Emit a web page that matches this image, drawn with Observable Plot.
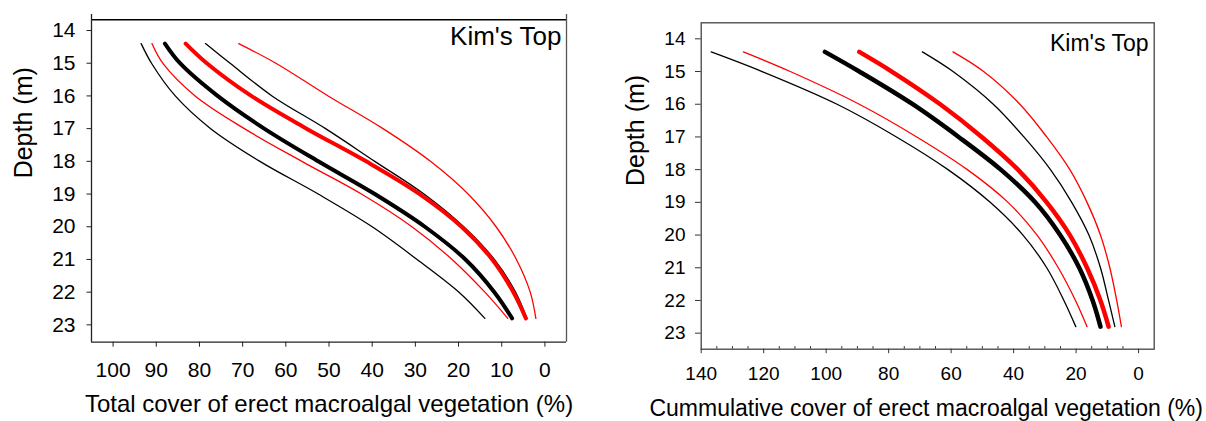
<!DOCTYPE html>
<html>
<head>
<meta charset="utf-8">
<script src="https://cdn.jsdelivr.net/npm/d3@7"></script>
<script src="https://cdn.jsdelivr.net/npm/@observablehq/plot@0.6"></script>
<style>
  html, body { margin: 0; padding: 0; background: #fff; }
  #wrap { position: relative; width: 1206px; height: 421px; overflow: hidden; }
  #left { position: absolute; left: 0; top: 0; }
  #right { position: absolute; left: 603px; top: 0; }
</style>
</head>
<body>
<div id="wrap"><div id="left"></div><div id="right"></div></div>
<script>
// ---- data ----
const depths = [14.4, 15, 16, 17, 18, 19, 20, 21, 22, 22.8];

// Left panel: total cover (%)
const totalBlackLow  = [93.5, 91.1, 85.6, 77.4, 66.0, 52.5, 40.0, 29.6, 19.9, 13.9];
const totalRedLow    = [91.0, 88.5, 81.0, 69.6, 56.3, 42.5, 30.8, 21.5, 13.9, 8.6];
const totalBlackFit  = [88.0, 84.5, 75.8, 65.0, 52.5, 39.4, 27.8, 18.4, 11.7, 7.6];
const totalRedFit    = [83.2, 78.3, 68.0, 55.2, 41.4, 29.0, 19.3, 12.2, 7.3, 4.4];
const totalBlackHigh = [78.6, 72.9, 63.2, 50.8, 39.4, 28.0, 18.8, 11.7, 6.8, 4.2];
const totalRedHigh   = [70.9, 62.3, 50.2, 37.5, 26.5, 17.8, 11.3, 6.6, 3.4, 2.1];

// Right panel: cumulative cover (%)
const cumBlackLow  = [136.8, 120.5, 96.5, 77.5, 61.0, 47.5, 37.0, 29.4, 23.9, 20.1];
const cumRedLow    = [126.5, 111.5, 89.4, 71.0, 54.8, 41.8, 32.5, 25.7, 20.2, 16.5];
const cumBlackFit  = [100.4, 89.4, 72.3, 57.6, 44.1, 33.1, 25.1, 19.0, 14.7, 12.2];
const cumRedFit    = [89.4, 79.0, 63.5, 50.2, 38.6, 29.4, 22.0, 16.5, 12.2, 9.6];
const cumBlackHigh = [69.2, 59.4, 46.5, 36.7, 28.2, 21.4, 15.9, 12.2, 9.6, 7.6];
const cumRedHigh   = [59.4, 49.6, 38.0, 29.4, 22.0, 16.5, 12.2, 9.2, 7.0, 5.5];

const depthTicks = [14, 15, 16, 17, 18, 19, 20, 21, 22, 23];
const totalTicks = [100, 90, 80, 70, 60, 50, 40, 30, 20, 10, 0];
const cumTicks = [140, 120, 100, 80, 60, 40, 20, 0];
const cumMinorTicks = [135, 130, 125, 115, 110, 105, 95, 90, 85, 75, 70, 65, 55, 50, 45, 35, 30, 25, 15, 10, 5];

const panelLabel = "Kim's Top";
const yTitle = "Depth (m)";
const xTitleLeft = "Total cover of erect macroalgal vegetation (%)";
const xTitleRight = "Cummulative cover of erect macroalgal vegetation (%)";

// ---- helpers ----
const rows = (vals) => vals.map((v, i) => ({depth: depths[i], value: v}));
const FONT = "'Liberation Sans', Arial, Helvetica, sans-serif";

function curveMarks(set, thick) {
  const thin = 1.3;
  const opt = (stroke, w) => ({x: "value", y: "depth", stroke, strokeWidth: w, curve: "catmull-rom", strokeLinecap: "round"});
  return [
    Plot.line(rows(set.bl), opt("#000", thin)),
    Plot.line(rows(set.rl), opt("#ff0000", thin)),
    Plot.line(rows(set.bh), opt("#000", thin)),
    Plot.line(rows(set.rh), opt("#ff0000", thin)),
    Plot.line(rows(set.bf), opt("#000", thick)),
    Plot.line(rows(set.rf), opt("#ff0000", thick))
  ];
}

// ---- left panel ----
const leftPlot = Plot.plot({
  width: 603, height: 421,
  marginLeft: 91, marginRight: 37, marginTop: 14, marginBottom: 79.3,
  x: {domain: [105, -5]},
  y: {domain: [23.53, 13.51]},
  style: {fontFamily: FONT, fontSize: "21px", color: "#000", background: "white", overflow: "visible"},
  marks: [
    Plot.ruleY([13.67], {stroke: "#000", strokeWidth: 1.4}),
    Plot.ruleX([105], {stroke: "#222", strokeWidth: 1.3}),
    Plot.ruleX([-5], {stroke: "#555", strokeWidth: 1.3}),
    Plot.ruleY([23.53], {stroke: "#222", strokeWidth: 1.3}),
    Plot.axisX({ticks: totalTicks, tickSize: 5, tickPadding: 15, label: null, stroke: "#222"}),
    Plot.axisY({ticks: depthTicks, tickSize: 4.5, tickPadding: 11.5, label: null, stroke: "#222"}),
    ...curveMarks({bl: totalBlackLow, rl: totalRedLow, bf: totalBlackFit, rf: totalRedFit, bh: totalBlackHigh, rh: totalRedHigh}, 4),
    Plot.text([panelLabel], {frameAnchor: "top-right", textAnchor: "end", lineAnchor: "top", dx: -5, dy: 12, fontSize: 26}),
    Plot.text([yTitle], {frameAnchor: "left", rotate: -90, dx: -68, fontSize: 25}),
    Plot.text([xTitleLeft], {frameAnchor: "bottom", lineAnchor: "top", dy: 52.3, fontSize: 24})
  ]
});
document.getElementById("left").appendChild(leftPlot);

// ---- right panel ----
const rightPlot = Plot.plot({
  width: 603, height: 421,
  marginLeft: 97.7, marginRight: 52.3, marginTop: 22.3, marginBottom: 72.3,
  x: {domain: [140, -5]},
  y: {domain: [23.49, 13.51]},
  style: {fontFamily: FONT, fontSize: "19px", color: "#000", background: "white", overflow: "visible"},
  marks: [
    Plot.frame({stroke: "#444", strokeWidth: 1.3}),
    Plot.ruleX(cumMinorTicks, {y1: 23.49, y2: 23.41, stroke: "#333"}),
    Plot.axisX({ticks: cumTicks, tickSize: 4.5, tickPadding: 13, label: null, stroke: "#333"}),
    Plot.axisY({ticks: depthTicks, tickSize: 5.7, tickPadding: 10, label: null, stroke: "#333"}),
    ...curveMarks({bl: cumBlackLow, rl: cumRedLow, bf: cumBlackFit, rf: cumRedFit, bh: cumBlackHigh, rh: cumRedHigh}, 4.5),
    Plot.text([panelLabel], {frameAnchor: "top-right", textAnchor: "end", lineAnchor: "top", dx: -5.7, dy: 11.4, fontSize: 23}),
    Plot.text([yTitle], {frameAnchor: "left", rotate: -90, dx: -65.7, fontSize: 25}),
    Plot.text([xTitleRight], {frameAnchor: "bottom", lineAnchor: "top", dx: -1.5, dy: 50, fontSize: 23})
  ]
});
document.getElementById("right").appendChild(rightPlot);
</script>
</body>
</html>
